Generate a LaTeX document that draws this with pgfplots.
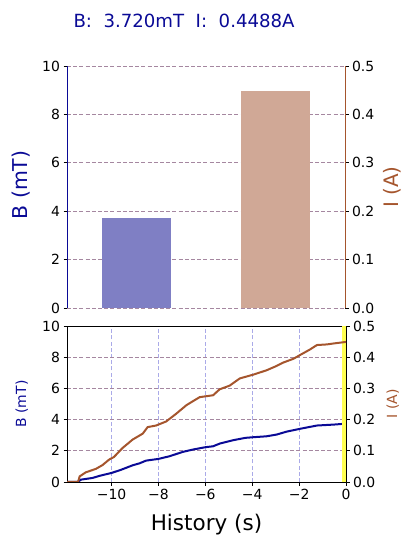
\documentclass[border=0pt]{standalone}
\usepackage{pgfplots}
\pgfplotsset{compat=1.18}
\usepackage{fontspec}
\setmainfont{DejaVu Sans}
\definecolor{bnavy}{RGB}{10,10,150}
\definecolor{isienna}{RGB}{165,85,45}
\definecolor{bbar}{RGB}{127,127,196}
\definecolor{ibar}{RGB}{208,168,150}
\definecolor{hgrid}{RGB}{165,135,160}
\definecolor{vgrid}{RGB}{170,170,232}
\definecolor{vline}{RGB}{255,255,80}
\pgfplotsset{
  common/.style={
    scale only axis,
    anchor=south west,
    /pgf/number format/assume math mode=true,
    tick label style={font=\fontsize{14}{16}\selectfont, black},
    tick style={black, line width=0.8bp},
    major tick length=3.5bp,
    tick align=outside,
  },
}
\begin{document}
\begin{tikzpicture}
\useasboundingbox (0,0) rectangle (403bp,536bp);
% ---------- top panel: bars ----------
\begin{axis}[common,
  at={(67bp,228bp)}, width=278bp, height=242bp,
  xmin=-0.5, xmax=1.5, ymin=0, ymax=10,
  axis x line=none, axis y line*=left,
  y axis line style={draw=bnavy, line width=0.9bp},
  ytick={0,2,4,6,8,10},
  ymajorgrids, y grid style={hgrid, dash pattern=on 4bp off 2.2bp, line width=0.8bp},
]
\addplot[ybar, bar width=0.5, bar shift=0pt, fill=bbar, draw=none] coordinates {(0,3.720)};
\end{axis}
\begin{axis}[common,
  at={(67bp,228bp)}, width=278bp, height=242bp,
  xmin=-0.5, xmax=1.5, ymin=0, ymax=0.5,
  axis x line=none, axis y line*=right,
  y axis line style={draw=isienna, line width=0.9bp},
  ytick={0,0.1,0.2,0.3,0.4,0.5},
  yticklabel style={/pgf/number format/.cd, fixed, fixed zerofill, precision=1},
]
\addplot[ybar, bar width=0.5, bar shift=0pt, fill=ibar, draw=none] coordinates {(1,0.4488)};
\end{axis}
% ---------- bottom panel: history ----------
\begin{axis}[common,
  at={(67bp,54bp)}, width=279bp, height=156bp,
  xmin=-11.9, xmax=0, ymin=0, ymax=10,
  xtick={-10,-8,-6,-4,-2,0},
  xticklabels={−10,−8,−6,−4,−2,0},
  ytick={0,2,4,6,8,10},
  xtick pos=lower, ytick pos=left,
  axis line style={black, line width=0.9bp},
  xmajorgrids, x grid style={vgrid, dash pattern=on 4bp off 2.2bp, line width=0.8bp},
  ymajorgrids, y grid style={hgrid, dash pattern=on 4bp off 2.2bp, line width=0.8bp},
]
\addplot[bnavy, line width=2bp] coordinates {
(-11.9,0) (-11.43,0) (-11.31,0.15) (-10.81,0.26) (-10.5,0.4) (-10,0.58)
(-9.6,0.78) (-9.1,1.07) (-8.8,1.2) (-8.53,1.37) (-8,1.48) (-7.53,1.65)
(-6.96,1.93) (-6.53,2.08) (-6,2.23) (-5.67,2.29) (-5.39,2.46) (-4.81,2.68)
(-4.29,2.83) (-3.96,2.87) (-3.39,2.93) (-2.96,3.04) (-2.53,3.23) (-1.96,3.41)
(-1.24,3.62) (-0.53,3.68) (0,3.74)};
\addplot[vline, line width=3.5bp] coordinates {(-0.08,0) (-0.08,10)};
\end{axis}
\begin{axis}[common,
  at={(67bp,54bp)}, width=279bp, height=156bp,
  xmin=-11.9, xmax=0, ymin=0, ymax=0.5,
  axis x line=none, axis y line*=right,
  y axis line style={draw=black, line width=0.9bp},
  ytick={0,0.1,0.2,0.3,0.4,0.5},
  yticklabel style={/pgf/number format/.cd, fixed, fixed zerofill, precision=1},
]
\addplot[isienna, line width=2bp] coordinates {
(-11.9,0) (-11.43,0) (-11.36,0.018) (-11.1,0.031) (-10.67,0.042) (-10.39,0.054)
(-10.1,0.072) (-9.9,0.080) (-9.53,0.109) (-9.1,0.136) (-8.67,0.155) (-8.46,0.176)
(-8.1,0.181) (-7.67,0.194) (-7.24,0.219) (-6.81,0.246) (-6.53,0.259) (-6.24,0.272)
(-5.67,0.278) (-5.39,0.297) (-4.96,0.309) (-4.53,0.332) (-3.96,0.344) (-3.39,0.358)
(-2.96,0.372) (-2.67,0.383) (-2.24,0.395) (-1.96,0.407) (-1.53,0.425) (-1.24,0.439)
(-0.81,0.441) (-0.53,0.444) (0,0.449)};
\end{axis}
% ---------- labels ----------
\node[anchor=base west, text=bnavy, font=\fontsize{18.2}{21}\selectfont] at (70bp,508bp) {B:\ \ 3.720mT\ \ I:\ \ 0.4488A};
\node[rotate=90, anchor=base, text=bnavy, font=\fontsize{20.5}{24}\selectfont] at (27.5bp,351bp) {B (mT)};
\node[rotate=90, anchor=base, text=isienna, font=\fontsize{20}{24}\selectfont] at (398.5bp,349bp) {I (A)};
\node[rotate=90, anchor=base, text=bnavy, font=\fontsize{14}{16}\selectfont] at (26bp,132bp) {B (mT)};
\node[rotate=90, anchor=base, text=isienna, font=\fontsize{14}{16}\selectfont] at (397bp,132bp) {I (A)};
\node[anchor=base, font=\fontsize{21.6}{25}\selectfont] at (206.5bp,6bp) {History (s)};
\end{tikzpicture}
\end{document}
